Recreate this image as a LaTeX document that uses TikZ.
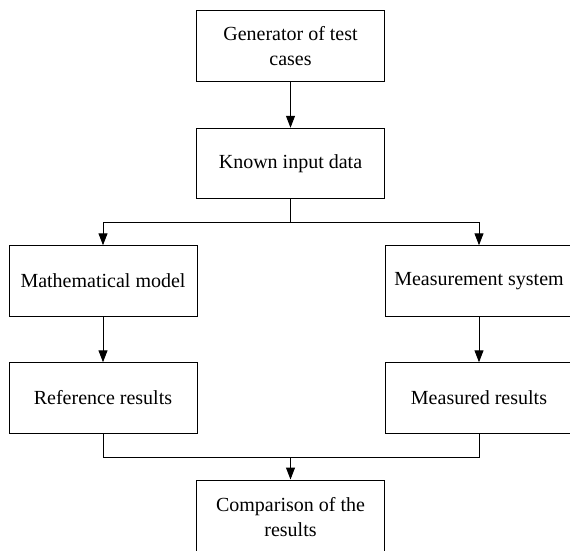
\documentclass[tikz,border=0pt]{standalone}
\usepackage{fontspec}
\setmainfont{Liberation Serif}
\usetikzlibrary{arrows.meta}
\begin{document}
\begin{tikzpicture}[x=1pt,y=-1pt,
  box/.style={draw=black,line width=1pt,minimum width=188pt,minimum height=70.5pt,inner sep=0pt,align=center,font=\fontsize{20}{25}\selectfont},
  conn/.style={line width=1pt,draw=black},
  arr/.style={conn,-{Triangle[length=12pt,width=9pt]}}]
\useasboundingbox (0,0) rectangle (570,550);
\clip (0,0) rectangle (570,550);
\node[box] (gen) at (290.5,46) {Generator of test\\cases};
\node[box] (known) at (290.5,163.5) {Known input data};
\node[box] (math) at (103,281) {Mathematical model};
\node[box] (meas) at (479,281) {Measurement system};
\node[box] (ref) at (103,398) {Reference results};
\node[box] (mres) at (479,398) {Measured results};
\node[box,minimum height=74pt] (comp) at (290.5,517) {Comparison of the\\results};
\coordinate (split) at (290.5,222);
\coordinate (merge) at (290.5,457);
\draw[arr] (gen) -- (known);
\draw[conn] (known) -- (split);
\draw[arr] (split) -| (math);
\draw[arr] (split) -| (meas);
\draw[arr] (math) -- (ref);
\draw[arr] (meas) -- (mres);
\draw[conn] (ref.south) |- (merge);
\draw[conn] (mres.south) |- (merge);
\draw[arr] (merge) -- (comp);
\end{tikzpicture}
\end{document}
